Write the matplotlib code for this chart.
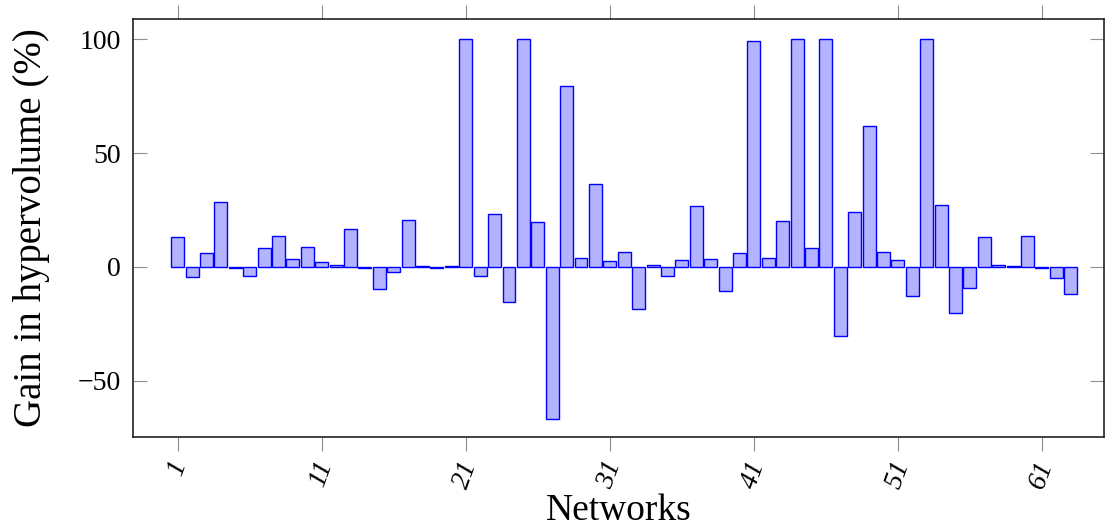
import matplotlib.pyplot as plt
import numpy as np

plt.rcParams['font.family'] = ['Liberation Serif', 'DejaVu Serif']

networks = np.arange(1, 64)
gain = [13.2, -4.2, 6.1, 28.7, -0.5, -4.1, 8.3, 13.5, 3.4, 8.8,
        2.2, 1.0, 16.5, -0.3, -9.5, -2.3, 20.8, 0.3, -0.3, 0.4,
        100, -3.9, 23.2, -15.4, 100, 19.6, -66.7, 79.4, 4.1, 36.5,
        2.8, 6.7, -18.3, 0.9, -3.9, 3.1, 26.6, 3.5, -10.4, 6.1,
        99.1, 3.9, 20.2, 100, 8.2, 100, -30.3, 24.1, 61.8, 6.6,
        2.9, -12.6, 100, 27.3, -20.0, -9.4, 13.0, 0.7, 0.3, 13.6,
        -0.6, -4.7, -11.8]
xticks = [1, 11, 21, 31, 41, 51, 61]
yticks = [-50, 0, 50, 100]

fig = plt.figure(figsize=(11.05, 5.29), dpi=100)
ax = fig.add_axes([0.1204, 0.174, 0.8786, 0.790])

ax.bar(networks, gain, width=0.9, color=(0.7, 0.7, 1.0),
       edgecolor='blue', linewidth=1.0)

ax.set_xlim(-2.1, 65.3)
ax.set_ylim(-74.6, 108.8)
ax.set_xticks(xticks)
ax.set_xticklabels([str(t) for t in xticks], rotation=70,
                   fontstyle='italic', fontsize=20)
ax.set_yticks(yticks)
ax.set_yticklabels(['\u221250', '0', '50', '100'], fontsize=20)

ax.tick_params(axis='x', direction='out', top=True, length=10,
               color='#909090', width=0.8, pad=5)
ax.tick_params(axis='y', direction='in', right=True, length=10,
               color='#909090', width=0.8, pad=9)

for s in ax.spines.values():
    s.set_linewidth(1.2)
    s.set_color('#222222')

ax.set_xlabel('Networks', fontsize=27, labelpad=1)
ax.set_ylabel('Gain in hypervolume (%)', fontsize=28, labelpad=20)

fig.savefig('out.png', dpi=100)
